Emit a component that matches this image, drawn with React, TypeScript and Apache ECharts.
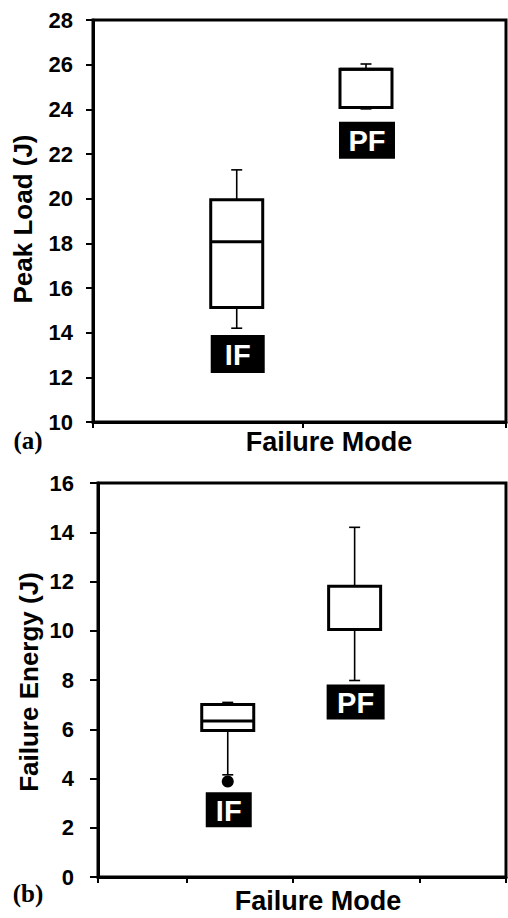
import React, { useEffect, useRef } from "react";
import * as echarts from "echarts";

// ---- data ----
const categories = ["IF", "PF"];

// (a) Peak Load (J)
const peakPositions = [0.348, 0.661];
const peakMin = [14.2, 24.02];
const peakQ1 = [15.13, 24.08];
const peakMedian = [18.07, 25.8];
const peakQ3 = [19.95, 25.8];
const peakMax = [21.29, 26.03];
const peakLabelTop = [13.89, 23.44];
const peakXTicks = [0, 0.507, 1];

// (b) Failure Energy (J)
const energyPositions = [0.318, 0.629];
const energyMin = [4.15, 7.98];
const energyQ1 = [5.95, 10.05];
const energyMedian = [6.33, 10.05];
const energyQ3 = [7.01, 11.81];
const energyMax = [7.09, 14.2];
const energyOutlierCategory = [0];
const energyOutlierValue = [3.88];
const energyLabelTop = [3.44, 7.82];
const energyXTicks = [0, 0.217, 0.478, 0.788, 1];

// ---- styles ----
const SANS = "'Liberation Sans', Arial, sans-serif";
const SERIF = "'Liberation Serif', 'Times New Roman', serif";
const BOX_W = 52;
const CAP_W = 11;
const peakLabelSize = [
  [54, 38],
  [56, 37],
];
const energyLabelSize = [
  [46, 35],
  [58, 35],
];

function boxRender(params: any, api: any) {
  const x = api.value(0);
  const [cx, yMin] = api.coord([x, api.value(1)]);
  const yQ1 = api.coord([x, api.value(2)])[1];
  const yMed = api.coord([x, api.value(3)])[1];
  const yQ3 = api.coord([x, api.value(4)])[1];
  const yMax = api.coord([x, api.value(5)])[1];
  const thin = { stroke: "#000", lineWidth: 1.6 };
  const thick = { stroke: "#000", lineWidth: 3 };
  return {
    type: "group",
    children: [
      { type: "line", shape: { x1: cx, y1: yMax, x2: cx, y2: yQ3 }, style: thin },
      { type: "line", shape: { x1: cx - CAP_W / 2, y1: yMax, x2: cx + CAP_W / 2, y2: yMax }, style: thin },
      { type: "line", shape: { x1: cx, y1: yQ1, x2: cx, y2: yMin }, style: thin },
      { type: "line", shape: { x1: cx - CAP_W / 2, y1: yMin, x2: cx + CAP_W / 2, y2: yMin }, style: thin },
      {
        type: "rect",
        shape: { x: cx - BOX_W / 2, y: yQ3, width: BOX_W, height: yQ1 - yQ3 },
        style: { fill: "#fff", stroke: "#000", lineWidth: 3 },
      },
      { type: "line", shape: { x1: cx - BOX_W / 2, y1: yMed, x2: cx + BOX_W / 2, y2: yMed }, style: thick },
    ],
  };
}

function labelRender(sizes: number[][]) {
  return (params: any, api: any) => {
    const i = params.dataIndex;
    const [cx, yTop] = api.coord([api.value(0), api.value(1)]);
    const [w, h] = sizes[i];
    return {
      type: "group",
      children: [
        { type: "rect", shape: { x: cx + 1 - w / 2, y: yTop, width: w, height: h }, style: { fill: "#000" } },
        {
          type: "text",
          x: cx + 1,
          y: yTop + h / 2 + 1,
          style: {
            text: categories[i],
            fill: "#fff",
            font: `bold 29px ${SANS}`,
            align: "center",
            verticalAlign: "middle",
          },
        },
      ],
    };
  };
}

export default function App() {
  const ref = useRef<HTMLDivElement>(null);
  useEffect(() => {
    if (!ref.current) return;
    const chart = echarts.init(ref.current, undefined, { renderer: "svg" });

    const peakBoxes = categories.map((_, i) => [
      peakPositions[i], peakMin[i], peakQ1[i], peakMedian[i], peakQ3[i], peakMax[i],
    ]);
    const energyBoxes = categories.map((_, i) => [
      energyPositions[i], energyMin[i], energyQ1[i], energyMedian[i], energyQ3[i], energyMax[i],
    ]);
    const peakLabels = categories.map((_, i) => [peakPositions[i], peakLabelTop[i]]);
    const energyLabels = categories.map((_, i) => [energyPositions[i], energyLabelTop[i]]);
    const outliers = energyOutlierCategory.map((c, i) => [energyPositions[c], energyOutlierValue[i]]);

    const yLabel = { color: "#000", fontSize: 22, fontWeight: "bold", fontFamily: SANS };
    const xAxisBase = (ticks: number[]) => ({
      type: "value",
      min: 0,
      max: 1,
      axisLine: { show: true, lineStyle: { color: "#000", width: 3 } },
      axisTick: { show: true, customValues: ticks, length: 6, lineStyle: { color: "#000", width: 2 } },
      axisLabel: { show: false },
      splitLine: { show: false },
    });

    chart.setOption({
      animation: false,
      backgroundColor: "#fff",
      grid: [
        { left: 93, top: 20, width: 413, height: 402, show: true, borderColor: "#000", borderWidth: 3, containLabel: false },
        { left: 98, top: 483, width: 408, height: 394, show: true, borderColor: "#000", borderWidth: 3, containLabel: false },
      ],
      xAxis: [
        { ...xAxisBase(peakXTicks), gridIndex: 0 },
        { ...xAxisBase(energyXTicks), gridIndex: 1 },
      ],
      yAxis: [
        {
          type: "value", gridIndex: 0, min: 10, max: 28, interval: 2,
          axisLine: { show: true, lineStyle: { color: "#000", width: 3 } },
          axisTick: { show: true, length: 7, lineStyle: { color: "#000", width: 2 } },
          axisLabel: { ...yLabel, margin: 20 },
          splitLine: { show: false },
        },
        {
          type: "value", gridIndex: 1, min: 0, max: 16, interval: 2,
          axisLine: { show: true, lineStyle: { color: "#000", width: 3 } },
          axisTick: { show: true, length: 8, lineStyle: { color: "#000", width: 2 } },
          axisLabel: { ...yLabel, margin: 24 },
          splitLine: { show: false },
        },
      ],
      series: [
        { type: "custom", name: "Peak Load", xAxisIndex: 0, yAxisIndex: 0, renderItem: boxRender, encode: { x: 0, y: [1, 2, 3, 4, 5] }, data: peakBoxes },
        { type: "custom", name: "Peak labels", xAxisIndex: 0, yAxisIndex: 0, renderItem: labelRender(peakLabelSize), encode: { x: 0, y: 1 }, data: peakLabels },
        { type: "custom", name: "Failure Energy", xAxisIndex: 1, yAxisIndex: 1, renderItem: boxRender, encode: { x: 0, y: [1, 2, 3, 4, 5] }, data: energyBoxes },
        { type: "custom", name: "Energy labels", xAxisIndex: 1, yAxisIndex: 1, renderItem: labelRender(energyLabelSize), encode: { x: 0, y: 1 }, data: energyLabels },
        {
          type: "scatter", name: "Outlier", xAxisIndex: 1, yAxisIndex: 1, symbol: "circle", symbolSize: 12,
          itemStyle: { color: "#000", opacity: 1 }, data: outliers, z: 5,
        },
      ],
      graphic: [
        {
          type: "text", x: 23, y: 219, rotation: Math.PI / 2,
          style: { text: "Peak Load (J)", font: `bold 26px ${SANS}`, fill: "#000", align: "center", verticalAlign: "middle" },
        },
        {
          type: "text", x: 29, y: 682, rotation: Math.PI / 2,
          style: { text: "Failure Energy (J)", font: `bold 26px ${SANS}`, fill: "#000", align: "center", verticalAlign: "middle" },
        },
        {
          type: "text", x: 329, y: 442,
          style: { text: "Failure Mode", font: `bold 27px ${SANS}`, fill: "#000", align: "center", verticalAlign: "middle" },
        },
        {
          type: "text", x: 318, y: 901,
          style: { text: "Failure Mode", font: `bold 27px ${SANS}`, fill: "#000", align: "center", verticalAlign: "middle" },
        },
        {
          type: "text", x: 28, y: 440,
          style: { text: "(a)", font: `bold 25px ${SERIF}`, fill: "#000", align: "center", verticalAlign: "middle" },
        },
        {
          type: "text", x: 28, y: 893,
          style: { text: "(b)", font: `bold 25px ${SERIF}`, fill: "#000", align: "center", verticalAlign: "middle" },
        },
      ],
    });
    return () => chart.dispose();
  }, []);
  return (
    <div
      ref={ref}
      style={{ position: "absolute", left: 0, top: 0, width: 508, height: 918, background: "#fff" }}
    />
  );
}
